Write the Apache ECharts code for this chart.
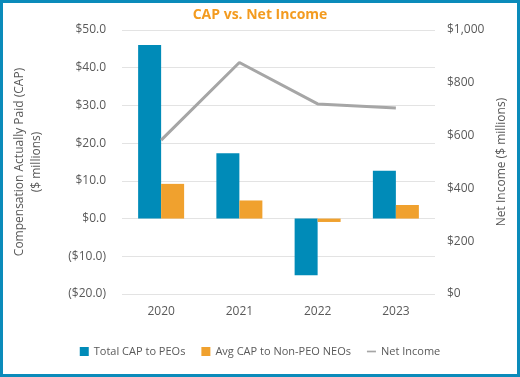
<!DOCTYPE html>
<html>
<head>
<meta charset="utf-8">
<script src="https://cdn.jsdelivr.net/npm/echarts@6/dist/echarts.min.js"></script>
<style>
    html, body { margin: 0; padding: 0; background: #fff; }
    #frame { width: 520px; height: 377px; box-sizing: border-box; border: 3px solid #0b8bba; }
    #chart { width: 514px; height: 371px; }
</style>
</head>
<body>
<div id="frame"><div id="chart"></div></div>
<script>
// 数据
const years = ["2020", "2021", "2022", "2023"];
const totalCapPeo = [46.0, 17.3, -15.0, 12.7];
const avgCapNeo = [9.2, 4.8, -0.9, 3.6];
const netIncome = [583, 877, 720, 705];
const leftTicks = [-20, -10, 0, 10, 20, 30, 40, 50];
const rightTicks = [0, 200, 400, 600, 800, 1000];

const font = "'Open Sans', 'Liberation Sans', sans-serif";
const grey = "#595959";

// 左轴标签格式：负数用括号
function fmtLeft(v) {
    const s = "$" + Math.abs(v).toFixed(1);
    return v < 0 ? "(" + s + ")" : s;
}
function fmtRight(v) {
    return "$" + v.toLocaleString("en-US");
}

const chart = echarts.init(document.getElementById("chart"));
chart.setOption({
    animation: false,
    textStyle: { fontFamily: font },
    title: {
        text: "CAP vs. Net Income",
        left: "center",
        top: 0,
        textStyle: { color: "#f39b1f", fontSize: 14, fontWeight: "bold", fontFamily: font },
    },
    legend: {
        bottom: 12,
        left: "center",
        itemWidth: 9,
        itemHeight: 9,
        itemGap: 16,
        textStyle: { color: grey, fontSize: 11, fontFamily: font },
        data: [
            { name: "Total CAP to PEOs", icon: "rect" },
            { name: "Avg CAP to Non-PEO NEOs", icon: "rect" },
            { name: "Net Income", icon: "path://M0,0 L16,0 L16,3 L0,3 Z" },
        ],
    },
    grid: { left: 112, right: 82, top: 27, bottom: 80 },
    xAxis: {
        type: "category",
        data: years,
        axisLine: { show: false, onZero: false },
        axisTick: { show: false },
        axisLabel: { color: grey, fontSize: 12, margin: 12 },
    },
    yAxis: [
        {
            type: "value",
            min: leftTicks[0],
            max: leftTicks[leftTicks.length - 1],
            interval: 10,
            name: "Compensation Actually Paid (CAP)\n($ millions)",
            nameLocation: "middle",
            nameGap: 77,
            nameTextStyle: { color: grey, fontSize: 12, lineHeight: 17 },
            axisLabel: { color: grey, fontSize: 12, margin: 16, formatter: fmtLeft },
            splitLine: { lineStyle: { color: "#e3e3e3", width: 1 } },
        },
        {
            type: "value",
            min: rightTicks[0],
            max: rightTicks[rightTicks.length - 1],
            interval: 200,
            name: "Net Income ($ millions)",
            nameLocation: "middle",
            nameGap: 58,
            nameRotate: 90,
            nameTextStyle: { color: grey, fontSize: 12 },
            axisLabel: { color: grey, fontSize: 12, margin: 12, formatter: fmtRight },
            splitLine: { show: false },
        },
    ],
    series: [
        {
            name: "Total CAP to PEOs",
            type: "bar",
            data: totalCapPeo,
            barWidth: 23,
            barGap: "0%",
            itemStyle: { color: "#008bb8" },
        },
        {
            name: "Avg CAP to Non-PEO NEOs",
            type: "bar",
            data: avgCapNeo,
            barWidth: 23,
            itemStyle: { color: "#f0a12e" },
        },
        {
            name: "Net Income",
            type: "line",
            yAxisIndex: 1,
            data: netIncome,
            symbol: "none",
            lineStyle: { color: "#a6a6a6", width: 3 },
            itemStyle: { color: "#a6a6a6" },
        },
    ],
});
</script>
</body>
</html>
